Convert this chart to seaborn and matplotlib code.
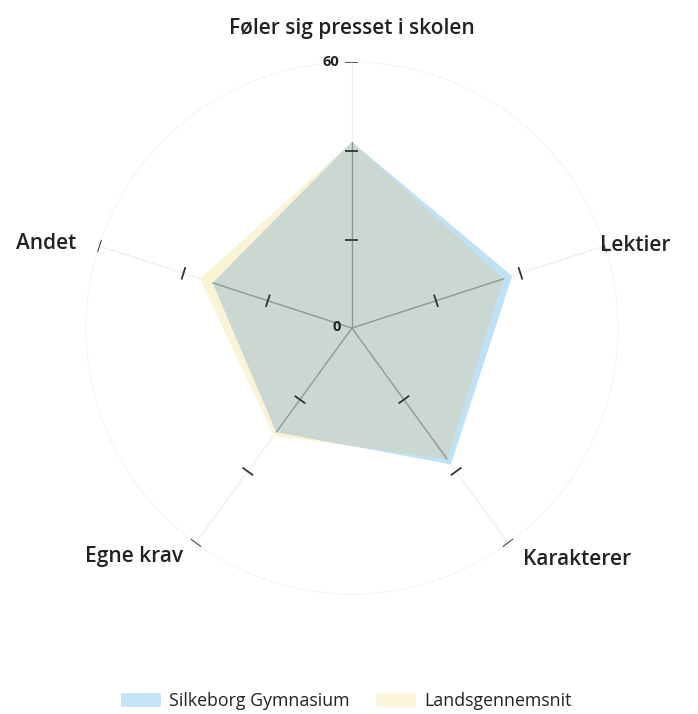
import numpy as np
import matplotlib.pyplot as plt
import seaborn as sns
from matplotlib.patches import Patch

sns.set_style('white')
plt.rcParams['font.family'] = ['Open Sans', 'DejaVu Sans']

categories = ['Føler sig presset i skolen', 'Lektier', 'Karakterer', 'Egne krav', 'Andet']
silkeborg = [42, 38, 38, 29, 33]
lands = [42, 36, 36.5, 30, 36]
series_names = ['Silkeborg Gymnasium', 'Landsgennemsnit']
r_ticks = [20, 40, 60]
R_MAX = 60

BLUE = (190 / 255, 225 / 255, 245 / 255)
YELLOW = (251 / 255, 243 / 255, 213 / 255)
OVERLAP = (203 / 255, 216 / 255, 210 / 255)
LEG_BLUE = (194 / 255, 228 / 255, 246 / 255)
LEG_YELLOW = (252 / 255, 246 / 255, 220 / 255)

if __name__ == '__main__':
    fig = plt.figure(figsize=(6.98, 7.14), dpi=100)
    ax = fig.add_axes([0.1232, 0.168, 0.762, 0.745], projection='polar')
    ax.set_theta_offset(np.pi / 2)
    ax.set_theta_direction(-1)
    ax.set_ylim(0, R_MAX)
    ax.grid(False)
    ax.set_xticks([])
    ax.set_yticks([])
    ax.spines['polar'].set_color('#f6f6f6')
    ax.spines['polar'].set_linewidth(1.0)

    n = len(categories)
    angles = np.arange(n) * 2 * np.pi / n
    closed = np.concatenate([angles, angles[:1]])

    # yellow, then blue, then the shared area in grey (blue clipped by yellow)
    lands_patch = ax.fill(closed, lands + lands[:1], color=YELLOW, lw=0, zorder=2)[0]
    ax.fill(closed, silkeborg + silkeborg[:1], color=BLUE, lw=0, zorder=3)
    ov = ax.fill(closed, silkeborg + silkeborg[:1], color=OVERLAP, lw=0, zorder=3.5)[0]
    ov.set_clip_path(lands_patch)

    inner = np.minimum(silkeborg, lands)
    for a, v in zip(angles, inner):
        ax.plot([a, a], [0, R_MAX], color='#eeeeee', lw=0.9, zorder=1)
        ax.plot([a, a], [0, v], color='#8f9994', lw=1.0, zorder=4)
        for t in r_ticks:
            d = 6.5 / 266 * R_MAX / t
            ax.plot([a - d, a + d], [t, t], color='#333333', lw=1.3, zorder=5,
                    solid_capstyle='butt')

    ax.annotate('60', xy=(0, R_MAX), xytext=(-9, 0), textcoords='offset points',
                ha='right', va='center', fontsize=10.5, fontweight='bold',
                color='#222222', zorder=6)
    ax.annotate('0', xy=(0, 0), xytext=(-11, 1), textcoords='offset points',
                ha='center', va='center', fontsize=10.5, fontweight='bold',
                color='#222222', zorder=6)

    label_fmt = dict(fontsize=15, fontweight='semibold', color='#222222')
    ax.text(angles[0], 67.7, categories[0], ha='center', va='center', **label_fmt)
    ax.text(np.deg2rad(71.5), 59, categories[1], ha='left', va='center', **label_fmt)
    ax.text(np.deg2rad(143.5), 65, categories[2], ha='left', va='center', **label_fmt)
    ax.text(np.deg2rad(216.5), 64, categories[3], ha='right', va='center', **label_fmt)
    ax.text(np.deg2rad(287), 65, categories[4], ha='right', va='center', **label_fmt)

    handles = [Patch(facecolor=LEG_BLUE, edgecolor='none'),
               Patch(facecolor=LEG_YELLOW, edgecolor='none')]
    fig.legend(handles, series_names, loc='center', bbox_to_anchor=(346 / 698, 1 - 701 / 714),
               ncol=2, frameon=False, fontsize=12.8, handlelength=2.25, handleheight=0.85,
               columnspacing=1.5, handletextpad=0.45, labelcolor='#222222')

    plt.savefig('out.png', dpi=100)
